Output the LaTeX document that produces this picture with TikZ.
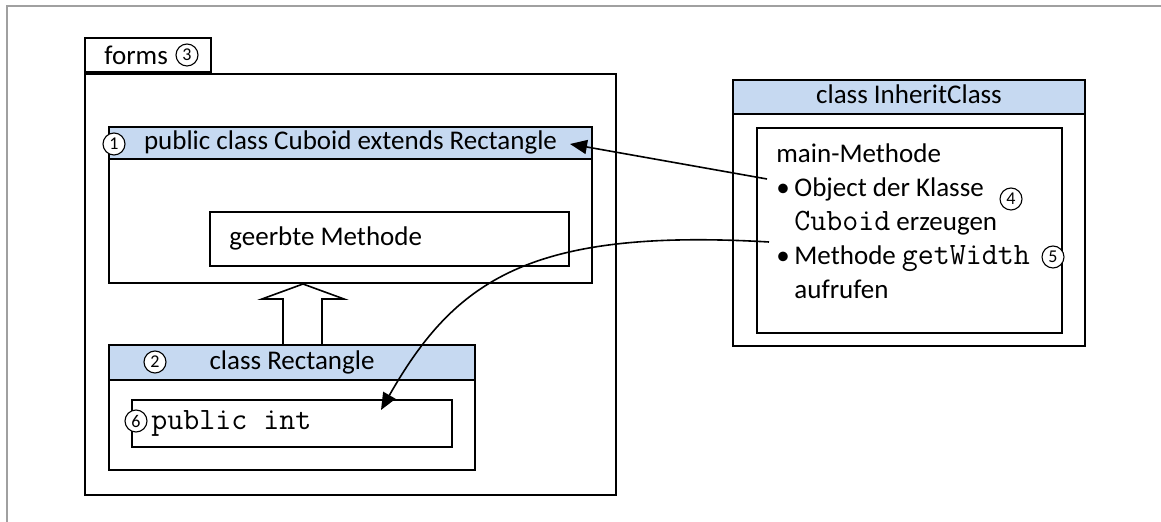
\documentclass[tikz,border=0pt]{standalone}
\usepackage{fontspec}
\setmainfont{Carlito}
\setmonofont[Scale=1.15]{Latin Modern Mono}
\usepackage{xcolor}
\definecolor{cHead} {HTML}{C6D9F1}
\definecolor{cFrame}{HTML}{A0A0A0}
\usepackage{tikz}
\usetikzlibrary{arrows.meta, positioning, calc}
\tikzset{
  box/.style  = {rectangle, draw, line width=1pt, inner sep=0pt,
                 anchor=north west},
  head/.style = {box, fill=cHead, text depth=0.5ex},
  ibox/.style = {box, line width=0.8pt},
  txt/.style  = {anchor=west, inner sep=0pt},
  num/.style  = {circle, draw, fill=white, line width=0.55pt, inner sep=0pt,
                 minimum size=11pt, font=\fontsize{9}{9}\selectfont},
  arr/.style  = {-{Triangle[length=8.5pt, width=7pt]}, line width=0.8pt},
  inh/.style  = {draw, fill=white, line width=0.8pt},
}

\begin{document}
\begin{tikzpicture}[x=0.5pt, y=-0.5pt, font=\fontsize{13.5}{17}\selectfont]

  \useasboundingbox (0,0) rectangle (1161,522);
  \draw[cFrame, line width=1pt] (7,522) -- (7,6) -- (1161,6);

  %% --- package forms ---
  \node[box, minimum width=63pt, minimum height=17pt] (tab) at (84,37) {};
  \node[txt] (tabtxt) at ([xshift=10pt]tab.west) {forms};
  \node[num] (n3) at (187,55) {3};
  \node[box, minimum width=265.5pt, minimum height=210.5pt] (forms)
        at (tab.south west) {};

  %% --- class Cuboid ---
  \node[box, minimum width=241.5pt, minimum height=62pt] (cubody)
        at (108,158) {};
  \node[head, minimum width=241.5pt, minimum height=16pt] (cuhead)
        at (108,126) {public class Cuboid extends Rectangle};
  \node[num] (n1) at (114,144) {1};
  \node[ibox, minimum width=179.5pt, minimum height=27pt] (geerbt)
        at (209,211) {};
  \node[txt] at ([xshift=10pt]geerbt.west) {geerbte Methode};

  %% --- class Rectangle ---
  \node[box, minimum width=183pt, minimum height=45pt] (rebody)
        at (108,379) {};
  \node[head, minimum width=183pt, minimum height=17.5pt] (rehead)
        at (108,344) {class Rectangle};
  \node[num] (n2) at (155,362) {2};
  \node[ibox, minimum width=160pt, minimum height=23.5pt] (pubint)
        at (131,399) {};
  \node[txt] at ([xshift=10pt]pubint.west) {\texttt{public int}};
  \node[num] (n6) at (136,421) {6};

  %% --- class InheritClass ---
  \node[box, minimum width=176pt, minimum height=116pt] (inbody)
        at (732,113) {};
  \node[head, minimum width=176pt, minimum height=17pt] (inhead)
        at (732,79) {class InheritClass};
  \node[ibox, minimum width=152.5pt, minimum height=102.5pt] (main)
        at (756,127) {};
  \node[anchor=north west, inner sep=0pt, align=left] (mtext) at (776,143)
        {main-Methode\\
         \makebox[9pt][l]{\textbullet}Object der Klasse\\
         \hspace*{9pt}\texttt{Cuboid} erzeugen\\
         \makebox[9pt][l]{\textbullet}Methode \texttt{getWidth}\\
         \hspace*{9pt}aufrufen};
  \node[num] (n4) at (1011,199) {4};
  \node[num] (n5) at (1053,257) {5};

  %% --- Arrows ---
  \draw[inh] ([xshift=-23.75pt]cubody.south) -- ++(41,15) -- ++(-22,0)
        -- ++(0,46) -- ++(-39,0) -- ++(0,-46) -- ++(-21,0) -- cycle;

  \coordinate (objsrc) at (767,179);
  \coordinate (widsrc) at (769,242);
  \draw[arr] (objsrc) -- ([xshift=-11.5pt,yshift=-0.5pt]cuhead.east);
  \draw[arr] (widsrc) .. controls (530,228) and (455,280)
        .. ([xshift=125pt,yshift=-5.5pt]pubint.north west);

\end{tikzpicture}
\end{document}
